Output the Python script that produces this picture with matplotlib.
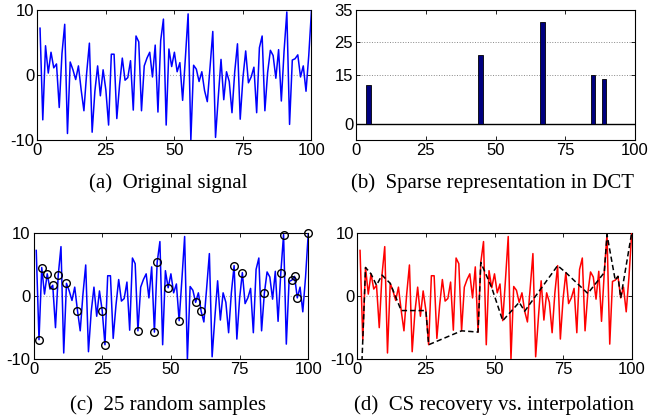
import matplotlib

matplotlib.use("Agg")
import matplotlib.pyplot as plt

plt.rcParams["font.family"] = ["Liberation Sans", "DejaVu Sans"]
plt.rcParams["axes.unicode_minus"] = False

signal = [
    7.2, -6.9, 4.5, 0.3, 3.5, 1.1, 1.7, -5.0, 3.3, 7.8,
    -9.0, 2.0, 0.8, -0.7, 1.4, -2.3, -5.5, 0.3, 4.9, -8.8,
    -2.5, 1.4, -3.2, 0.8, -2.3, -7.7, 3.2, 3.2, -6.7, -1.5,
    2.6, -0.8, -0.4, 2.2, -5.4, 6.0, 5.1, -5.5, 1.4, 2.6,
    3.5, -0.3, 4.6, -5.7, 5.3, 8.6, -7.7, 4.0, 1.3, 3.5,
    0.5, 1.9, -3.9, 2.6, 9.4, -10.0, 1.5, 0.9, -1.0, 0.5,
    -2.4, -4.1, 1.2, 6.7, -9.6, -3.4, 2.4, -3.8, 0.5, -1.0,
    -5.8, 0.5, 4.8, -6.8, -0.4, 3.7, -1.2, -0.3, 1.2, -5.8,
    4.2, 6.0, -5.5, 0.4, 3.8, 3.0, -0.5, 3.9, -4.0, 3.7,
    9.7, -7.6, 2.3, 2.5, 3.1, -0.3, 1.4, -2.5, 3.0, 10.0,
]
n = list(range(1, 101))

# non-zero DCT coefficients (panel b)
dct_pos = [4.5, 44.7, 66.8, 85.0, 88.9]
dct_val = [11.9, 21.1, 31.3, 15.1, 13.9]

# the 25 random samples (panel c)
sample_x = [2, 3, 5, 7, 9, 12, 16, 25, 26, 38, 44, 45, 49, 53, 59, 61, 73, 76, 84, 90, 91, 94, 95, 96, 100]
sample_y = [-6.9, 4.5, 3.5, 1.7, 3.3, 2.0, -2.3, -2.3, -7.7, -5.5, -5.7, 5.3, 1.3, -3.9, -1.0, -2.4,
            4.8, 3.7, 0.4, 3.7, 9.7, 2.5, 3.1, -0.3, 10.0]

# linear interpolation of the samples (panel d), first point extrapolated below the axis
interp_x = [1] + sample_x
interp_y = [-18.3] + sample_y

captions = [
    "(a)  Original signal",
    "(b)  Sparse representation in DCT",
    "(c)  25 random samples",
    "(d)  CS recovery vs. interpolation",
]

W, H = 650, 419
fig = plt.figure(figsize=(W / 100, H / 100), dpi=100)


def px_axes(left, top, right, bottom):
    return fig.add_axes([left / W, 1 - bottom / H, (right - left) / W, (bottom - top) / H])


def style(ax, yticks, ylim):
    ax.set_xlim(0, 100)
    ax.set_ylim(*ylim)
    ax.set_xticks([0, 25, 50, 75, 100])
    ax.set_yticks(yticks)
    ax.tick_params(direction="in", top=True, right=True, length=3, width=0.6, labelsize=12, pad=2)
    for s in ax.spines.values():
        s.set_linewidth(0.8)


ax_a = px_axes(37.3, 10, 311.5, 140)
ax_a.axhline(0, color="#aaaaaa", ls=":", lw=0.8, zorder=1)
ax_a.plot(n, signal, color="#0000ff", lw=1.1, zorder=3)
style(ax_a, [-10, 0, 10], (-10, 10))

ax_b = px_axes(356, 10, 635, 140)
for yv in (15, 25):
    ax_b.axhline(yv, color="#888888", ls=":", lw=0.7, zorder=1)
ax_b.axhline(0, color="black", lw=1.0, zorder=2)
ax_b.bar(dct_pos, dct_val, width=1.6, color="#00007f", edgecolor="black", linewidth=0.6, zorder=3)
style(ax_b, [0, 15, 25, 35], (-5, 35))

ax_c = px_axes(33.5, 232.7, 308.3, 359.3)
ax_c.axhline(0, color="#aaaaaa", ls=":", lw=0.8, zorder=1)
ax_c.plot(n, signal, color="#0000ff", lw=1.1, zorder=3)
ax_c.plot(sample_x, sample_y, "o", ms=5.5, mfc="none", mec="black", mew=1.0, zorder=4, clip_on=False)
style(ax_c, [-10, 0, 10], (-10, 10))

ax_d = px_axes(357.3, 232.7, 631.7, 359.3)
ax_d.axhline(0, color="#aaaaaa", ls=":", lw=0.8, zorder=1)
ax_d.plot(n, signal, color="#ff0000", lw=1.1, zorder=3)
ax_d.plot(interp_x, interp_y, color="black", ls="--", lw=1.1, dashes=(3.5, 2), zorder=4)
style(ax_d, [-10, 0, 10], (-10, 10))

cap_pos = [(168, 183), (493, 183), (168, 405), (494, 405)]
for text, (cx, cy) in zip(captions, cap_pos):
    fig.text(cx / W, 1 - cy / H, text, ha="center", va="center", fontsize=15,
             family=["Liberation Serif", "DejaVu Serif"])

fig.savefig("out.png", dpi=100)
